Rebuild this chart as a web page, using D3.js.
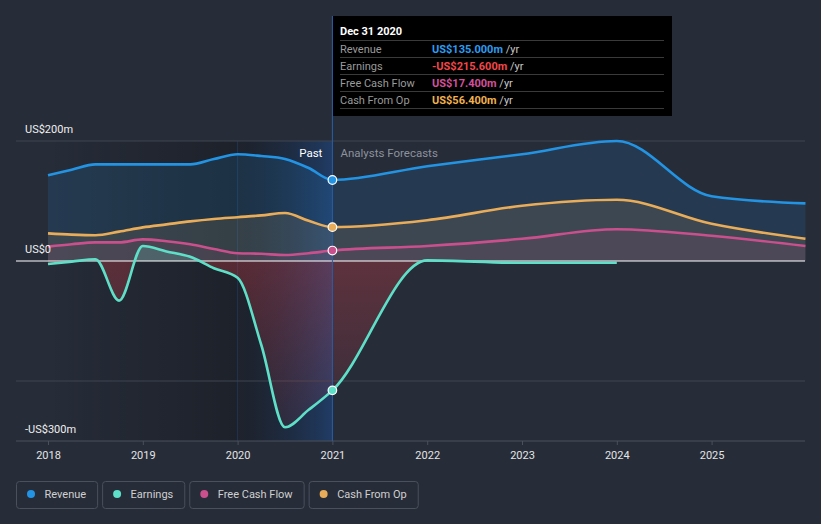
<!DOCTYPE html>
<html><head><meta charset="utf-8">
<script src="https://cdn.jsdelivr.net/npm/d3@7"></script>
<style>
html,body{margin:0;padding:0;background:#262c38;}
svg{display:block;font-family:Roboto,"Open Sans",sans-serif;}
</style></head><body>
<svg id="c" width="821" height="524"></svg>
<script>
// ---- data (US$ millions) ----
const pastDates = [2018, 2018.25, 2018.5, 2018.75, 2019, 2019.25, 2019.5, 2019.75, 2020, 2020.25, 2020.5, 2020.75, 2021];
const forecastDates = [2021, 2022, 2023, 2024, 2025, 2025.99];
const earningsForecastDates = [2021, 2022, 2023, 2024];

const revenuePast = [143, 152, 161, 161, 161, 161, 161, 170, 178, 175, 170, 155, 135];
const earningsPast = [-5, -1, 3, -66, 25, 16, 7, -12, -28, -140, -277, -248, -215.6];
const fcfPast = [24, 28, 31, 31, 36, 33, 28, 20, 13, 12, 10, 13, 17.4];
const cfoPast = [46, 44, 43, 49, 56, 61, 66, 70, 73, 76, 80, 67, 56.4];

const revenueForecast = [135, 158, 178, 200, 108, 96];
const earningsForecast = [-215.6, 1, -3, -3];
const fcfForecast = [17.4, 25, 37, 53, 42, 25];
const cfoForecast = [56.4, 68, 92, 102, 62, 37];

const yearTicks = [2018, 2019, 2020, 2021, 2022, 2023, 2024, 2025];
const yLabelValues = [200, 0, -300];
const yLabelTexts = ["US$200m", "US$0", "-US$300m"];
const gridValues = [200, -200];

const seriesNames = ["Revenue", "Earnings", "Free Cash Flow", "Cash From Op"];
const seriesColors = ["#2394e3", "#5ee0c8", "#c9508c", "#e9ad5a"];
const tooltipValues = ["US$135.000m", "-US$215.600m", "US$17.400m", "US$56.400m"];
const tooltipValueColors = ["#2d9cf0", "#f2474a", "#d4509b", "#f0b24f"];
const tooltipTitle = "Dec 31 2020";
const nowDate = 2021;
const highlightStart = 2020;

// ---- build ----
const svg = d3.select("#c");
const x = d3.scaleLinear().domain([2018, 2026]).range([48, 806.4]);
const y = d3.scaleLinear().domain([-300, 200]).range([441, 141]);
const left = 16, right = 805;

function zip(ts, vs) { return ts.map((t, i) => ({t, v: vs[i]})); }
const revenue = zip(pastDates, revenuePast).concat(zip(forecastDates, revenueForecast).slice(1));
const earnings = zip(pastDates, earningsPast).concat(zip(earningsForecastDates, earningsForecast).slice(1));
const fcf = zip(pastDates, fcfPast).concat(zip(forecastDates, fcfForecast).slice(1));
const cfo = zip(pastDates, cfoPast).concat(zip(forecastDates, cfoForecast).slice(1));

const defs = svg.append("defs");
const g1 = defs.append("linearGradient").attr("id", "pastDark").attr("x1", 0).attr("x2", 1).attr("y1", 0).attr("y2", 0);
g1.append("stop").attr("offset", 0).attr("stop-color", "#000").attr("stop-opacity", 0.0);
g1.append("stop").attr("offset", 1).attr("stop-color", "#000").attr("stop-opacity", 0.25);
const g2 = defs.append("linearGradient").attr("id", "pastBlue").attr("x1", 0).attr("x2", 1).attr("y1", 0).attr("y2", 0);
g2.append("stop").attr("offset", 0).attr("stop-color", "#000").attr("stop-opacity", 0.22);
g2.append("stop").attr("offset", 1).attr("stop-color", "#1a4f9c").attr("stop-opacity", 0.45);
const g3 = defs.append("linearGradient").attr("id", "redFill").attr("gradientUnits", "userSpaceOnUse")
  .attr("x1", 0).attr("x2", 0).attr("y1", y(0)).attr("y2", y(-300));
g3.append("stop").attr("offset", 0).attr("stop-color", "#e0404a").attr("stop-opacity", 0.3);
g3.append("stop").attr("offset", 1).attr("stop-color", "#e0404a").attr("stop-opacity", 0.06);

defs.append("clipPath").attr("id", "above").append("rect")
  .attr("x", 0).attr("y", 0).attr("width", 821).attr("height", y(0));
defs.append("clipPath").attr("id", "below").append("rect")
  .attr("x", 0).attr("y", y(0)).attr("width", 821).attr("height", 524 - y(0));

// past shading
svg.append("rect").attr("x", x(2018)).attr("y", y(200)).attr("width", x(highlightStart) - x(2018)).attr("height", y(-300) - y(200)).attr("fill", "url(#pastDark)");
svg.append("rect").attr("x", x(highlightStart)).attr("y", y(200)).attr("width", x(nowDate) - x(highlightStart)).attr("height", y(-300) - y(200)).attr("fill", "url(#pastBlue)");
svg.append("line").attr("x1", x(highlightStart)).attr("x2", x(highlightStart)).attr("y1", y(200)).attr("y2", y(-300))
  .attr("stroke", "#234a80").attr("stroke-opacity", 0.45).attr("stroke-width", 1);

// gridlines
svg.selectAll(".grid").data(gridValues).enter().append("line")
  .attr("x1", left).attr("x2", right).attr("y1", d => y(d)).attr("y2", d => y(d))
  .attr("stroke", "#3f4551").attr("stroke-width", 1);

const curve = d3.curveMonotoneX;
const area = d3.area().x(d => x(d.t)).y0(y(0)).y1(d => y(d.v)).curve(curve);
const line = d3.line().x(d => x(d.t)).y(d => y(d.v)).curve(curve);

svg.append("path").attr("d", area(revenue)).attr("fill", seriesColors[0]).attr("fill-opacity", 0.14);
svg.append("path").attr("d", area(cfo)).attr("fill", seriesColors[3]).attr("fill-opacity", 0.12);
svg.append("path").attr("d", area(fcf)).attr("fill", seriesColors[2]).attr("fill-opacity", 0.12);
svg.append("path").attr("d", area(earnings)).attr("fill", seriesColors[1]).attr("fill-opacity", 0.2).attr("clip-path", "url(#above)");
svg.append("path").attr("d", area(earnings)).attr("fill", "url(#redFill)").attr("clip-path", "url(#below)");

// zero line & axis
svg.append("line").attr("x1", left).attr("x2", right).attr("y1", y(0)).attr("y2", y(0)).attr("stroke", "#ffffff").attr("stroke-width", 1.2);

// lines
const all = [revenue, earnings, fcf, cfo];
all.forEach((s, i) => {
  svg.append("path").attr("d", line(s)).attr("fill", "none").attr("stroke", seriesColors[i]).attr("stroke-width", 2.6);
});

// x axis
const xAxis = d3.axisBottom(x).tickValues(yearTicks).tickFormat(d3.format("d")).tickSize(4).tickPadding(6);
const ax = svg.append("g").attr("transform", `translate(0,${y(-300)})`).call(xAxis);
ax.select(".domain").remove();
ax.selectAll(".tick line").attr("stroke", "#4a505c");
ax.selectAll(".tick text").attr("fill", "#e4e4e4").attr("font-size", 11).attr("font-family", "Roboto, sans-serif");
svg.append("line").attr("x1", left).attr("x2", right).attr("y1", y(-300)).attr("y2", y(-300)).attr("stroke", "#4a505c").attr("stroke-width", 1.2);

// y labels
svg.selectAll(".ylab").data(yLabelValues).enter().append("text")
  .attr("x", 25).attr("y", d => y(d) - 8).attr("fill", "#f0f0f0").attr("font-size", 11)
  .text((d, i) => yLabelTexts[i]);

// now line
svg.append("line").attr("x1", x(nowDate)).attr("x2", x(nowDate)).attr("y1", 16).attr("y2", y(-300))
  .attr("stroke", "#2a5fa8").attr("stroke-width", 1);

// Past / Forecast labels
svg.append("text").attr("x", x(nowDate) - 10).attr("y", 157).attr("text-anchor", "end").attr("fill", "#ffffff").attr("font-size", 11.5).text("Past");
svg.append("text").attr("x", x(nowDate) + 8).attr("y", 157).attr("fill", "#8c929c").attr("font-size", 11.5).text("Analysts Forecasts");

// markers
[revenue, earnings, fcf, cfo].forEach((s, i) => {
  const p = s.find(d => d.t === nowDate);
  svg.append("circle").attr("cx", x(p.t)).attr("cy", y(p.v)).attr("r", 4.3)
    .attr("fill", seriesColors[i]).attr("stroke", "#ffffff").attr("stroke-width", 1.2);
});

// tooltip
const tt = svg.append("g");
tt.append("rect").attr("x", 333).attr("y", 16).attr("width", 339).attr("height", 100).attr("fill", "#000000");
tt.append("text").attr("x", 340).attr("y", 34.5).attr("fill", "#ffffff").attr("font-size", 11).attr("font-weight", "bold").text(tooltipTitle);
[40.5, 57.5, 74.5, 91.5, 108.5].forEach(ly => {
  tt.append("line").attr("x1", 340).attr("x2", 664).attr("y1", ly).attr("y2", ly).attr("stroke", "#3a3a3a").attr("stroke-width", 1);
});
seriesNames.forEach((n, i) => {
  const by = 52.5 + i * 17;
  tt.append("text").attr("x", 340).attr("y", by).attr("fill", "#9a9a9a").attr("font-size", 11).text(n);
  const t = tt.append("text").attr("x", 432).attr("y", by).attr("font-size", 11);
  t.append("tspan").attr("fill", tooltipValueColors[i]).attr("font-weight", "bold").text(tooltipValues[i]);
  t.append("tspan").attr("fill", "#c8c8c8").text(" /yr");
});

// legend
let lx = 16;
seriesNames.forEach((n, i) => {
  const g = svg.append("g");
  const txt = g.append("text").attr("x", lx + 28.5).attr("y", 498).attr("fill", "#d0d0d0").attr("font-size", 11).text(n);
  const w = txt.node().getComputedTextLength();
  const bw = w + 28.5 + 11;
  g.insert("rect", "text").attr("x", lx + 0.5).attr("y", 481.5).attr("width", bw).attr("height", 27).attr("rx", 3)
    .attr("fill", "none").attr("stroke", "#4a505c").attr("stroke-width", 1);
  g.append("circle").attr("cx", lx + 15).attr("cy", 494).attr("r", 4).attr("fill", seriesColors[i]);
  lx += bw + 5;
});
</script>
</body></html>
